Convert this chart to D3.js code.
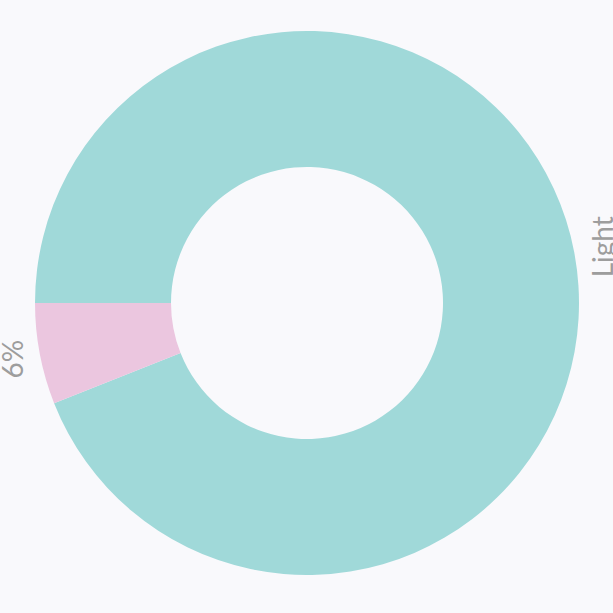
<!DOCTYPE html>
<html><head><meta charset="utf-8">
<script src="https://cdn.jsdelivr.net/npm/d3@7"></script>
<style>html,body{margin:0;padding:0;background:#f9f9fc;overflow:hidden}</style>
</head><body>
<svg id="c" width="613" height="613"></svg>
<script>
const categories = ["Light", "Other"];
const values = [94, 6];
const labels = ["Light", "6%"];
const colors = ["#a0d9d9", "#ebc6df"];

const svg = d3.select("#c");
const cx = 307, cy = 303, R = 272, r = 136;
const g = svg.append("g").attr("transform", `translate(${cx},${cy})`);
const pie = d3.pie().sort(null).value(d => d)
  .startAngle(-Math.PI/2).endAngle(3*Math.PI/2);
const arcs = pie(values);
const arc = d3.arc().innerRadius(r).outerRadius(R);
g.selectAll("path").data(arcs).join("path")
  .attr("d", arc).attr("fill", (d,i) => colors[i]);
const lr = 300;
g.selectAll("text").data(arcs).join("text")
  .attr("transform", d => {
    const a = (d.startAngle + d.endAngle)/2;
    return `translate(${lr*Math.sin(a)},${-lr*Math.cos(a)}) rotate(-90)`;
  })
  .attr("text-anchor", "middle").attr("dominant-baseline", "central")
  .attr("font-family", "Lato, sans-serif").attr("font-size", 28)
  .attr("fill", "#9d9d9d")
  .text((d,i) => labels[i]);
</script>
</body></html>
